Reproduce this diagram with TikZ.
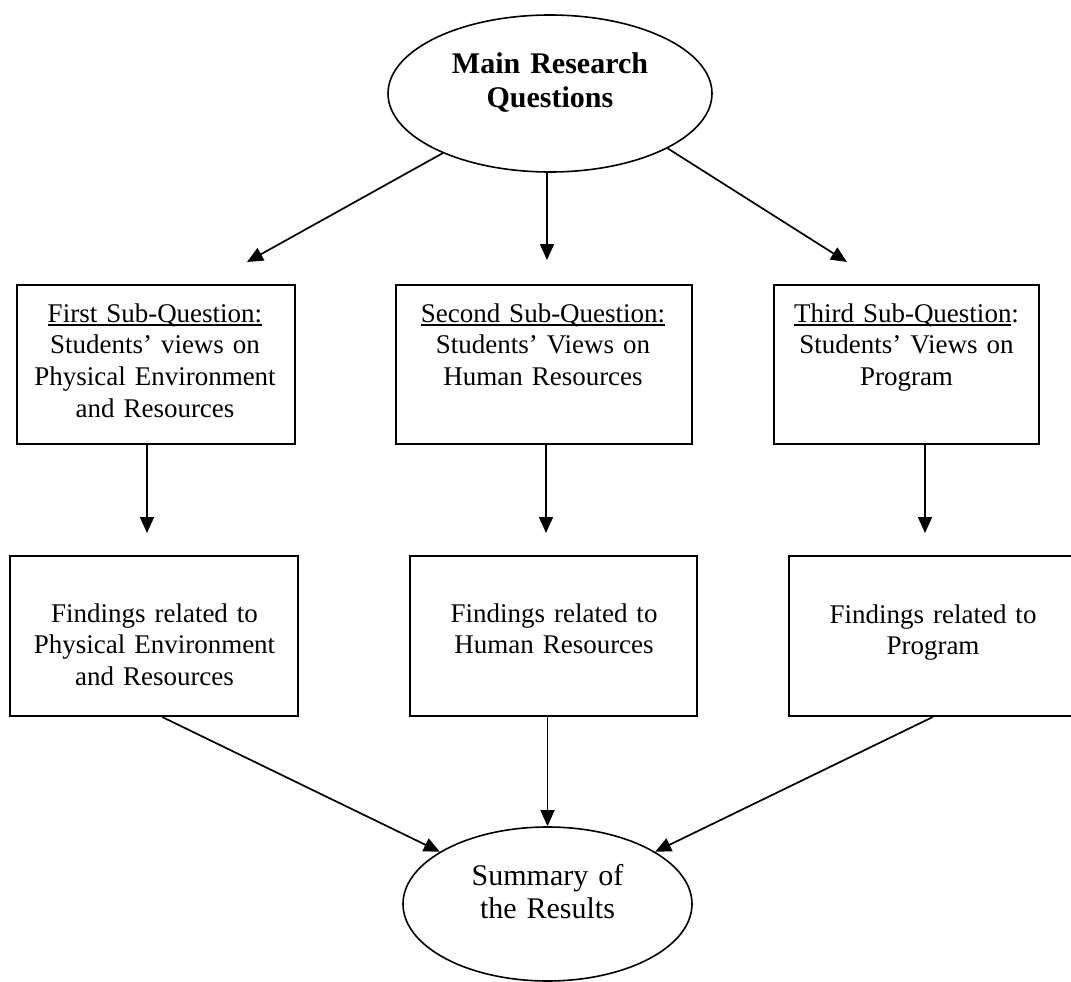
\documentclass[tikz,border=0pt]{standalone}
\usepackage{fontspec}
\setmainfont{Liberation Serif}
\usetikzlibrary{arrows.meta,shapes.geometric}
\newsavebox\ulbox
\newcommand\myul[1]{\sbox\ulbox{#1}\rlap{\rule[-3.7pt]{\wd\ulbox}{1.3pt}}\usebox\ulbox}
\begin{document}
\begin{tikzpicture}[x=1pt,y=-1pt,
  boxshape/.style={draw,line width=1.8pt,inner sep=0pt},
  ovalshape/.style={draw,ellipse,line width=1.6pt,inner sep=0pt},
  txt/.style={align=center,text width=320pt,anchor=base,inner sep=0pt,
    font=\fontsize{27}{31.7}\selectfont},
  bigtxt/.style={align=center,text width=320pt,anchor=base,inner sep=0pt,
    font=\fontsize{30}{33}\selectfont},
  arr/.style={-{Triangle[length=16pt,width=14pt]},line width=1.7pt}]
\useasboundingbox (0,0) rectangle (1071,982);
\clip (0,0) rectangle (1071,982);
% ellipses
\node[ovalshape,minimum width=324pt,minimum height=157pt] (top) at (550,93.5) {};
\node[bigtxt,font=\fontsize{30}{34}\selectfont\bfseries] (toptxt) at (550,73.3) {Main Research\\Questions};
\node[ovalshape,minimum width=289pt,minimum height=154pt] (bot) at (547.5,904) {};
\node[bigtxt] (bottxt) at (547.5,885) {Summary of\\the Results};
% sub-question boxes
\node[boxshape,minimum width=278pt,minimum height=159pt] (s1) at (156,364.5) {};
\node[boxshape,minimum width=296pt,minimum height=159pt] (s2) at (544,364.5) {};
\node[boxshape,minimum width=265pt,minimum height=159pt] (s3) at (906.5,364.5) {};
\node[txt] (s1txt) at (155,322) {\myul{First Sub-Question:}\\Students’ views on\\Physical Environment\\and Resources};
\node[txt] (s2txt) at (543,322) {\myul{Second Sub-Question:}\\Students’ Views on\\Human Resources};
\node[txt] (s3txt) at (906.5,322) {\myul{Third Sub-Question}:\\Students’ Views on\\Program};
% findings boxes
\node[boxshape,minimum width=288pt,minimum height=160pt] (f1) at (154,636) {};
\node[boxshape,minimum width=287pt,minimum height=160pt] (f2) at (553.5,636) {};
\node[boxshape,minimum width=285pt,minimum height=160pt] (f3) at (931.5,636) {};
\node[txt] (f1txt) at (154.5,622) {Findings related to\\Physical Environment\\and Resources};
\node[txt] (f2txt) at (554,622) {Findings related to\\Human Resources};
\node[txt] (f3txt) at (933,623) {Findings related to\\Program};
% arrow end coordinates
\coordinate (t1) at (247,262);
\coordinate (t2) at (547,260);
\coordinate (t3) at (847,262);
\coordinate (a1) at (147,533);
\coordinate (a2) at (546,533);
\coordinate (a3) at (925,533);
% connectors
\draw[arr] (top) -- (t1);
\draw[arr] (top.south -| t2) -- (t2);
\draw[arr] (top.-25.8) -- (t3);
\draw[arr] (s1.south -| a1) -- (a1);
\draw[arr] (s2.south -| a2) -- (a2);
\draw[arr] (s3.south -| a3) -- (a3);
\draw[arr] ([xshift=8pt]f1.south) -- (bot);
\draw[arr] ([xshift=-6pt]f2.south) -- (bot);
\draw[arr] ([xshift=1.5pt]f3.south) -- (bot);
\end{tikzpicture}
\end{document}
